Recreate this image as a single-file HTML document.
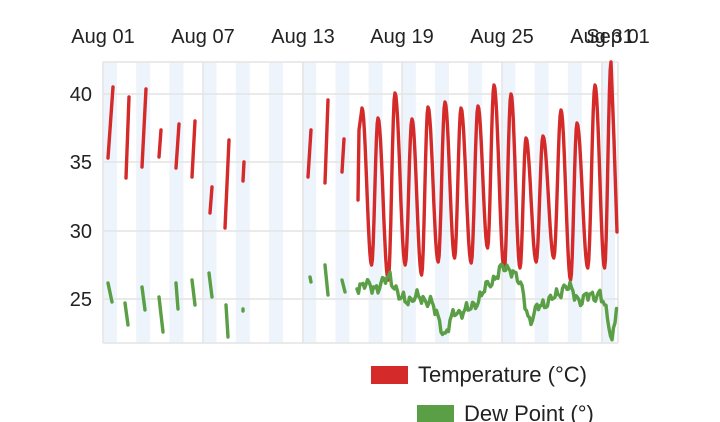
<!DOCTYPE html>
<html><head><meta charset="utf-8"><style>
html,body{margin:0;padding:0;background:#fff;width:720px;height:422px;overflow:hidden}
text{font-family:"Liberation Sans",sans-serif;fill:#222}
</style></head><body>
<svg id="s" width="720" height="422" viewBox="0 0 720 422" xmlns="http://www.w3.org/2000/svg">
<g id="bands"></g>
<g stroke="#e3e3e3" stroke-width="1.5">
<line x1="103" y1="94" x2="618" y2="94"/><line x1="103" y1="162" x2="618" y2="162"/>
<line x1="103" y1="231" x2="618" y2="231"/><line x1="103" y1="299" x2="618" y2="299"/>
<line x1="103" y1="62" x2="618" y2="62"/><line x1="103" y1="343" x2="618" y2="343"/>
<line x1="103" y1="62" x2="103" y2="343"/><line x1="203" y1="62" x2="203" y2="343"/>
<line x1="303" y1="62" x2="303" y2="343"/><line x1="402" y1="62" x2="402" y2="343"/>
<line x1="502" y1="62" x2="502" y2="343"/><line x1="602" y1="62" x2="602" y2="343"/>
<line x1="618" y1="62" x2="618" y2="343"/>
</g>
<g id="series" fill="none" stroke-width="3.4" stroke-linejoin="round" stroke-linecap="round"></g>
<g font-size="20" text-anchor="middle">
<text x="103" y="43">Aug 01</text><text x="203" y="43">Aug 07</text><text x="303" y="43">Aug 13</text>
<text x="402" y="43">Aug 19</text><text x="502" y="43">Aug 25</text><text x="602" y="43">Aug 31</text>
<text x="618" y="43">Sep 01</text>
</g>
<g font-size="20" text-anchor="end">
<text x="92" y="101">40</text><text x="92" y="169">35</text><text x="92" y="238">30</text><text x="92" y="306">25</text>
</g>
<rect x="371" y="366" width="37" height="18" fill="#d42a2a"/>
<text x="418" y="382" font-size="22">Temperature (°C)</text>
<rect x="417" y="405" width="37" height="18" fill="#5a9e46"/>
<text x="464" y="421" font-size="22">Dew Point (°)</text>
</svg>
<script>
var NS="http://www.w3.org/2000/svg",b=document.getElementById('bands'),g=document.getElementById('series');
for(var x=103;x<618;x+=33.2){var r=document.createElementNS(NS,'rect');r.setAttribute('x',x);r.setAttribute('y',62);r.setAttribute('width',Math.min(14,618-x));r.setAttribute('height',281);r.setAttribute('fill','#eef4fb');b.appendChild(r);}
function pl(pts,c){var p=document.createElementNS(NS,'polyline');p.setAttribute('points',pts.map(function(a){return a[0].toFixed(1)+','+a[1].toFixed(1)}).join(' '));p.setAttribute('stroke',c);g.appendChild(p);}
var R='#d42a2a',G='#5a9e46';
[[108,158,113,87],[126,178,129,97],[142,167,146,89],[159,157,161,130],[176,168,179,124],[192,177,195,121],[210,213,212,187],[225,228,229,140],[243,181,244,162],[308,177,311,130],[325,183,328,100],[342,172,344,139]].forEach(function(s){pl([[s[0],s[1]],[s[2],s[3]]],R);});
[[108,283,112,302],[125,303,128,325],[142,287,145,310],[159,297,163,332],[176,283,178,309],[192,280,195,305],[209,273,212,297],[226,305,228,337],[243,309,243,311],[310,277,311,282],[325,265,328,295],[342,280,345,292]].forEach(function(s){pl([[s[0],s[1]],[s[2],s[3]]],G);});
var peaks=[[362,108],[378,118],[395,93],[412,119],[428,107],[445,102],[461,108],[478,106],[494,85],[511,94],[526,138],[543,136],[561,110],[577,123],[595,85],[611,62]];
var tr=[265,280,265,275,262,258,263,248,270,268,262,258,280,268,268];
var pts=[[358,200],[359,130],[362,108]];
for(var i=0;i<peaks.length-1;i++){var p=peaks[i],q=peaks[i+1],d=q[0]-p[0],m=0.6;
for(var t=0.05;t<=1.001;t+=0.05){var y;
if(t<m){var u=t/m;y=p[1]+(tr[i]-p[1])*(1-Math.cos(Math.PI*u))/2;}
else{var u=(t-m)/(1-m);y=tr[i]+(q[1]-tr[i])*(1-Math.cos(Math.PI*u))/2;}
pts.push([p[0]+d*t,y]);}}
pts.push([614,140]);pts.push([617,232]);pl(pts,R);
var gp=[],base=[[357,285],[380,287],[390,275],[400,300],[415,298],[430,300],[445,335],[455,312],[470,310],[485,290],[500,270],[512,268],[522,290],[530,322],[540,305],[555,298],[565,285],[580,300],[600,293],[608,320],[612,340],[617,302]];
for(var x=357;x<=617;x+=1.5){var k=0;while(k<base.length-2&&base[k+1][0]<x)k++;var a=base[k],c=base[k+1],t=(x-a[0])/(c[0]-a[0]);var y=a[1]+(c[1]-a[1])*t+4*Math.sin(x*0.9)+3*Math.sin(x*0.37+1)+2*Math.sin(x*2.3);gp.push([x,y]);}
pl(gp,G);
</script>
</body></html>
